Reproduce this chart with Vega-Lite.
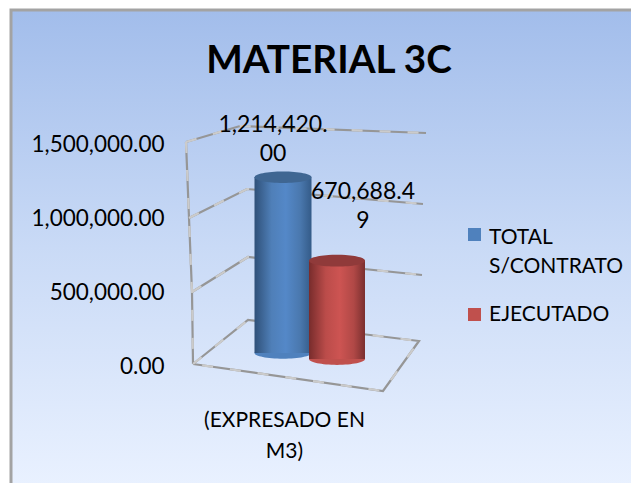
{
"$schema":"https://vega.github.io/schema/vega-lite/v6.json",
"autosize":{"type":"none"},
"padding":{"left":11,"top":10,"right":0,"bottom":0},
"width":622,"height":475,
"background":"#ffffff",
"view":{"stroke":"#a3a3a3","strokeWidth":3,"fill":{"gradient":"linear","x1":0,"y1":0,"x2":0,"y2":1,"stops":[{"offset":0,"color":"#a2bdeb"},{"offset":0.5,"color":"#c9daf6"},{"offset":1,"color":"#e9f1ff"}]}},
"title":{"text":"MATERIAL 3C","font":"Lato","fontSize":38.7,"fontWeight":"bold","color":"#000000","anchor":"middle","frame":"group","dx":7,"dy":106,"baseline":"alphabetic"},
"config":{"font":"Lato"},
"datasets":{
"bars":[{"categoria":"TOTAL S/CONTRATO","valor":1214420.00,"etiqueta":["1,214,420.","00"]},{"categoria":"EJECUTADO","valor":670688.49,"etiqueta":["670,688.4","9"]}],
"rejilla":[
{"linea":"tope","orden":1,"u":175,"v":1506757},{"linea":"tope","orden":2,"u":229,"v":1614865},{"linea":"tope","orden":3,"u":415,"v":1567568},
{"linea":"millon","orden":1,"u":178,"v":993243},{"linea":"millon","orden":2,"u":236,"v":1189190},{"linea":"millon","orden":3,"u":412,"v":1087838},
{"linea":"medio","orden":1,"u":181,"v":493243},{"linea":"medio","orden":2,"u":237,"v":729730},{"linea":"medio","orden":3,"u":411,"v":608108},
{"linea":"piso","orden":1,"u":182,"v":6757},{"linea":"piso","orden":2,"u":237,"v":304054},{"linea":"piso","orden":3,"u":408,"v":162162},{"linea":"piso","orden":4,"u":372,"v":-175676},{"linea":"piso","orden":5,"u":182,"v":6757},
{"linea":"pared","orden":1,"u":175,"v":1506757},{"linea":"pared","orden":2,"u":178,"v":993243},{"linea":"pared","orden":3,"u":181,"v":493243},{"linea":"pared","orden":4,"u":182,"v":6757}
]},
"resolve":{"scale":{"x":"independent"}},
"layer":[
{"data":{"name":"rejilla"},
 "encoding":{
  "x":{"field":"u","type":"quantitative","scale":{"domain":[0,622],"nice":false,"zero":false},"axis":null},
  "y":{"field":"v","type":"quantitative","scale":{"domain":[0,1500000],"range":[355,133],"nice":false,"zero":false},
   "axis":{"orient":"left","offset":-153,"values":[0,500000,1000000,1500000],"format":",.2f","title":null,"domain":false,"ticks":false,"grid":false,"labelPadding":0,"labelFont":"Lato","labelFontSize":22.5,"labelOffset":1,"labelColor":"#000000"}},
  "detail":{"field":"linea"},
  "order":{"field":"orden","type":"quantitative"}},
 "layer":[
  {"mark":{"type":"line","stroke":"#969696","strokeWidth":2.2,"clip":false}},
  {"mark":{"type":"line","stroke":"#cbcbcb","strokeWidth":2.2,"strokeDash":[11,17],"clip":false}}
 ]},
{"data":{"name":"bars"},
 "encoding":{
  "x":{"field":"categoria","type":"nominal","sort":null,
   "scale":{"domain":["TOTAL S/CONTRATO","EJECUTADO"],"range":[245,353],"paddingInner":0,"paddingOuter":0},
   "axis":{"labels":false,"ticks":false,"domain":false,"grid":false,"title":["(EXPRESADO EN","M3)"],"titleFont":"Lato","titleFontSize":21,"titleFontWeight":"normal","titleColor":"#000000","titleLineHeight":31,"titleX":273,"titleY":-76,"titleBaseline":"top"}},
  "y":{"field":"valor","type":"quantitative"}},
 "layer":[
  {"transform":[{"filter":"datum.categoria === 'TOTAL S/CONTRATO' || datum.categoria === 'EJECUTADO'"}],
   "mark":{"type":"point","filled":true,"opacity":0,"size":1},
   "encoding":{"y":{"datum":0,"type":"quantitative"},
    "color":{"field":"categoria","type":"nominal","scale":{"domain":["TOTAL S/CONTRATO","EJECUTADO"],"range":["#4f81bd","#c0504d"]},
     "legend":{"orient":"none","legendX":453,"legendY":214,"title":null,"symbolType":"square","symbolSize":170,"symbolOpacity":1,"labelFont":"Lato","labelFontSize":21,"labelColor":"#000000","labelBaseline":"alphabetic","labelOffset":4,"rowPadding":26,"labelLimit":200,
      "labelExpr":"datum.label === 'TOTAL S/CONTRATO' ? ['TOTAL','S/CONTRATO'] : datum.label",
      "encode":{"labels":{"update":{"lineHeight":{"value":29},"dy":{"signal":"datum.value === 'EJECUTADO' ? 6 : 9"}}}}}}}},
  {"transform":[{"filter":"datum.categoria === 'TOTAL S/CONTRATO'"}],
   "mark":{"type":"point","filled":true,"strokeWidth":0,"opacity":1,"size":3249,"yOffset":-12,"fill":"#4f81bd","shape":"M -1 0 A 1 0.2 0 1 1 1 0 A 1 0.2 0 1 1 -1 0 Z"},
   "encoding":{"y":{"datum":0,"type":"quantitative"}}},
  {"transform":[{"filter":"datum.categoria === 'TOTAL S/CONTRATO'"}],
   "mark":{"type":"bar","size":57,"yOffset":-8,"y2Offset":-12,"fill":{"gradient":"linear","x1":0,"y1":0,"x2":1,"y2":0,"stops":[{"offset":0,"color":"#2f5078"},{"offset":0.3,"color":"#4f7fb8"},{"offset":0.55,"color":"#5488c8"},{"offset":0.8,"color":"#4a78ae"},{"offset":1,"color":"#345b88"}]}},
   "encoding":{"y2":{"datum":0}}},
  {"transform":[{"filter":"datum.categoria === 'TOTAL S/CONTRATO'"}],
   "mark":{"type":"point","filled":true,"strokeWidth":0,"opacity":1,"size":3249,"yOffset":-8,"fill":"#3f6692","shape":"M -1 0 A 1 0.2 0 1 1 1 0 A 1 0.2 0 1 1 -1 0 Z"}},
  {"transform":[{"filter":"datum.categoria === 'EJECUTADO'"}],
   "mark":{"type":"point","filled":true,"strokeWidth":0,"opacity":1,"size":3136,"yOffset":-6,"fill":"#c0504d","shape":"M -1 0 A 1 0.21 0 1 1 1 0 A 1 0.21 0 1 1 -1 0 Z"},
   "encoding":{"y":{"datum":0,"type":"quantitative"}}},
  {"transform":[{"filter":"datum.categoria === 'EJECUTADO'"}],
   "mark":{"type":"bar","size":56,"yOffset":-5,"y2Offset":-6,"fill":{"gradient":"linear","x1":0,"y1":0,"x2":1,"y2":0,"stops":[{"offset":0,"color":"#782c2c"},{"offset":0.3,"color":"#bb4c4a"},{"offset":0.55,"color":"#cd5452"},{"offset":0.8,"color":"#b04846"},{"offset":1,"color":"#7a2f2f"}]}},
   "encoding":{"y2":{"datum":0}}},
  {"transform":[{"filter":"datum.categoria === 'EJECUTADO'"}],
   "mark":{"type":"point","filled":true,"strokeWidth":0,"opacity":1,"size":3136,"yOffset":-5,"fill":"#903a3a","shape":"M -1 0 A 1 0.21 0 1 1 1 0 A 1 0.21 0 1 1 -1 0 Z"}},
  {"transform":[{"filter":"datum.categoria === 'TOTAL S/CONTRATO'"}],
   "mark":{"type":"text","font":"Lato","fontSize":23,"color":"#000000","lineHeight":29,"baseline":"middle","align":"center","dx":-10,"dy":-60},
   "encoding":{"text":{"field":"etiqueta"}}},
  {"transform":[{"filter":"datum.categoria === 'EJECUTADO'"}],
   "mark":{"type":"text","font":"Lato","fontSize":23,"color":"#000000","lineHeight":29,"baseline":"middle","align":"center","dx":26,"dy":-74},
   "encoding":{"text":{"field":"etiqueta"}}}
 ]}
]}
